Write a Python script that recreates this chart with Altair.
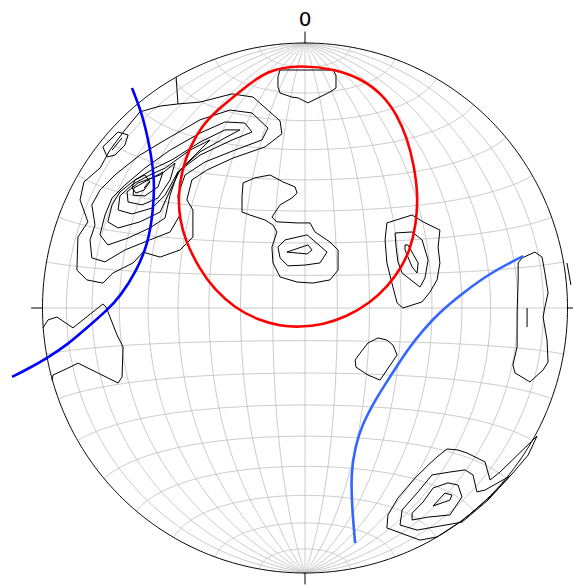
import numpy as np
import pandas as pd
import altair as alt

# ---------------------------------------------------------------------------
# Equal-area (Schmidt) stereonet: density contours of poles, two planes
# (great circles) and a small-circle cone.  All coordinates below are in
# net units: percent of the primitive radius, origin at the net centre,
# x towards E (90), y towards N (0).
# ---------------------------------------------------------------------------

# --- graticule settings (degrees) ---
meridian_lons = [-80, -70, -60, -50, -40, -30, -20, -10, 0, 10, 20, 30, 40, 50, 60, 70, 80]
parallel_lats = [-80, -70, -60, -50, -40, -30, -20, -10, 0, 10, 20, 30, 40, 50, 60, 70, 80]
tick_azimuths = [0, 90, 180, 270]
label_azimuths = [0]
label_texts = ["0"]

# --- density contours, NW pole cluster (nested levels) ---
nw_level1 = [(-48.4, 77.0), (-40.0, 77.7), (-27.8, 80.8), (-19.8, 79.6), (-9.5, 70.6), (-8.8, 65.7),
             (-15.2, 60.8), (-27.4, 56.6), (-37.3, 52.1), (-43.1, 48.3), (-45.0, 40.8), (-42.7, 37.0),
             (-42.7, 26.8), (-47.6, 21.9), (-55.2, 19.2), (-61.7, 21.1), (-65.5, 17.0), (-73.2, 13.2),
             (-77.0, 9.4), (-83.1, 10.6), (-86.9, 14.3), (-86.5, 26.8), (-82.7, 32.5), (-85.7, 40.8),
             (-84.2, 47.6), (-78.1, 52.8), (-74.3, 59.6), (-68.6, 67.2), (-62.9, 74.0), (-55.2, 76.2)]
nw_level2 = [(-53.3, 63.4), (-40.0, 71.0), (-28.6, 74.7), (-20.2, 73.6), (-14.1, 67.9), (-16.4, 63.4),
             (-26.7, 59.6), (-38.1, 55.1), (-45.7, 50.2), (-48.4, 42.6), (-47.6, 35.1), (-51.4, 28.7),
             (-59.1, 25.7), (-68.6, 21.9), (-76.2, 17.4), (-81.2, 18.9), (-81.9, 25.7), (-80.0, 31.3),
             (-81.2, 38.9), (-78.1, 44.5), (-72.4, 50.2), (-62.9, 57.7)]
nw_level3 = [(-51.4, 59.6), (-40.0, 66.0), (-30.5, 70.2), (-22.9, 69.8), (-20.2, 66.4), (-27.8, 63.4),
             (-40.0, 57.7), (-48.4, 51.3), (-51.4, 42.6), (-53.3, 34.0), (-59.1, 30.2), (-67.4, 26.4),
             (-75.1, 23.8), (-78.1, 27.6), (-76.2, 35.1), (-73.5, 41.5), (-68.6, 46.4), (-61.0, 52.8)]
nw_level4 = [(-50.7, 55.9), (-40.0, 62.6), (-30.5, 67.2), (-24.8, 67.2), (-30.5, 64.2), (-40.0, 58.9),
             (-47.6, 52.1), (-52.2, 42.6), (-55.2, 36.2), (-62.9, 32.5), (-71.2, 30.2), (-75.1, 32.5),
             (-73.5, 38.9), (-70.5, 43.8), (-64.8, 48.3), (-57.2, 52.8)]
nw_level5 = [(-53.3, 52.8), (-43.8, 59.6), (-36.2, 63.4), (-41.9, 57.7), (-48.4, 51.3), (-53.3, 42.6),
             (-58.3, 37.7), (-65.9, 35.5), (-71.2, 37.0), (-70.5, 42.3), (-65.5, 46.8), (-59.1, 50.2)]
nw_level6 = [(-55.2, 50.2), (-49.5, 54.7), (-51.4, 48.3), (-56.0, 41.5), (-62.1, 38.9), (-67.4, 40.0),
             (-67.8, 43.8), (-63.6, 47.2)]
nw_level7 = [(-58.3, 49.1), (-54.1, 51.3), (-56.0, 45.7), (-61.0, 42.3), (-65.5, 42.6), (-65.2, 45.3)]
nw_level8 = [(-64.8, 48.3), (-61.0, 50.2), (-59.1, 47.6), (-61.3, 44.5), (-64.4, 43.4), (-65.9, 45.3)]
nw_peak = [(-61.3, 45.3), (-59.1, 47.9)]
nw_side_ring = [(-77.0, 60.8), (-71.2, 66.4), (-67.4, 65.3), (-68.6, 61.5), (-72.4, 57.7), (-75.4, 57.0)]
nw_side_peak = [(-73.5, 59.6), (-69.7, 64.2)]
nw_top_spur = [(-49.1, 87.2), (-48.4, 77.0)]

# --- density contours, other clusters ---
north_ring = [(-9.5, 89.8), (10.7, 89.8), (11.8, 87.9), (11.8, 83.0), (9.5, 81.5), (1.1, 77.4),
              (-2.7, 79.3), (-5.0, 79.6), (-9.5, 81.1), (-10.3, 83.4), (-10.3, 87.2)]
centre_level1 = [(-23.6, 47.2), (-19.1, 49.1), (-13.3, 50.2), (-8.4, 47.6), (-3.8, 45.7), (-3.0, 43.4),
                 (-5.0, 41.5), (-9.5, 38.9), (-12.6, 34.3), (-10.7, 32.5), (-3.0, 32.1), (1.9, 32.1),
                 (3.8, 28.7), (9.5, 24.9), (12.6, 21.9), (12.6, 14.3), (9.5, 10.6), (3.0, 9.4),
                 (-3.0, 9.8), (-9.5, 11.7), (-12.2, 17.0), (-12.6, 23.0), (-10.7, 28.7), (-12.2, 31.3),
                 (-15.2, 33.2), (-21.0, 35.1), (-24.0, 36.2), (-24.0, 41.9)]
centre_level2 = [(-7.6, 25.7), (0.8, 27.6), (8.4, 21.1), (5.7, 17.0), (0.0, 16.2), (-6.5, 15.9),
                 (-9.5, 18.9), (-10.3, 23.0)]
centre_level3 = [(-6.9, 21.1), (1.1, 23.8), (2.7, 21.9), (0.8, 20.4)]
east_level1 = [(31.2, 32.1), (40.8, 35.1), (45.0, 32.5), (51.4, 29.4), (50.7, 23.0), (51.4, 17.0),
               (50.3, 10.6), (47.6, 6.0), (44.6, 2.3), (37.3, 0.0), (35.1, 1.9), (33.5, 7.9),
               (31.2, 17.0), (30.5, 25.7)]
east_level2 = [(34.3, 28.3), (40.8, 28.7), (44.6, 25.7), (46.9, 18.1), (45.7, 11.3), (43.8, 7.9),
               (37.0, 13.2), (35.4, 17.4), (34.7, 23.0)]
east_level3 = [(38.1, 23.8), (39.2, 23.8), (43.1, 17.0), (42.7, 13.2), (40.8, 15.5), (38.1, 21.9)]
se_small_ring = [(19.1, -19.6), (19.4, -22.3), (24.0, -25.3), (28.6, -27.2), (31.2, -23.4), (35.1, -17.7),
                 (33.5, -14.0), (31.2, -12.1), (27.8, -11.3), (24.0, -13.2), (21.0, -17.0)]
rim_east_ring = [(81.2, 17.0), (82.7, 18.9), (87.6, 21.1), (90.3, 19.2), (91.4, 13.2), (92.6, 5.7),
                 (91.4, 0.4), (90.7, -3.4), (92.2, -12.1), (92.6, -20.4), (90.7, -23.4), (85.7, -27.9),
                 (80.0, -24.5), (79.2, -21.5), (80.8, -14.7), (80.8, -1.9), (81.2, 10.6)]
rim_east_peak = [(84.6, 0.0), (84.6, -7.2)]
rim_east_spur = [(99.8, 17.0), (101.3, 8.7)]
south_level1 = [(54.1, -53.2), (58.3, -53.6), (61.7, -54.7), (68.6, -58.1), (70.5, -64.9), (74.3, -61.9),
                (88.4, -48.3), (85.0, -55.5), (78.9, -62.6), (70.5, -71.3), (60.2, -80.0), (50.3, -86.4),
                (43.8, -87.6), (31.2, -83.0), (31.6, -78.1), (35.4, -71.7), (41.9, -64.2), (46.9, -59.3),
                (50.3, -56.2)]
south_level2 = [(48.4, -63.0), (55.2, -61.9), (61.0, -61.1), (64.0, -63.0), (65.5, -69.4), (68.6, -68.7),
                (78.1, -63.4), (69.7, -72.5), (59.8, -80.8), (42.7, -83.8), (36.2, -81.9), (37.0, -76.2),
                (42.7, -69.8)]
south_level3 = [(48.8, -67.9), (54.5, -66.0), (58.3, -66.8), (59.8, -71.3), (55.2, -78.1), (46.9, -78.9),
                (40.8, -80.0), (40.8, -77.4), (45.0, -73.2)]
south_level4 = [(48.8, -74.7), (53.3, -69.8), (56.0, -70.6), (55.2, -72.5)]
west_rim_line = [(-99.8, -7.5), (-97.9, -4.5), (-94.5, -3.4), (-88.4, -7.5), (-77.0, 1.5), (-75.8, 0.4),
                 (-71.6, -10.2), (-69.3, -14.7), (-69.7, -26.0), (-71.2, -28.3), (-86.5, -20.8),
                 (-89.5, -22.3), (-96.0, -25.3), (-96.4, -27.2)]

closed_contours = [nw_level1, nw_level2, nw_level3, nw_level4, nw_level5, nw_level6, nw_level7,
                   nw_level8, nw_side_ring, north_ring, centre_level1, centre_level2, centre_level3,
                   east_level1, east_level2, east_level3, se_small_ring, rim_east_ring,
                   south_level1, south_level2, south_level3, south_level4]
open_contours = [nw_peak, nw_side_peak, nw_top_spur, rim_east_peak, rim_east_spur, west_rim_line]

# --- planes and cone ---
plane_west = [(-65.9, 83.0), (-62.1, 73.6), (-59.1, 60.8), (-57.2, 48.3), (-57.9, 35.9), (-59.8, 24.5),
              (-64.0, 14.3), (-70.5, 4.2), (-75.4, -0.8), (-83.1, -7.5), (-90.7, -14.0), (-98.3, -18.9),
              (-104.8, -22.6), (-111.6, -26.0)]
plane_east = [(83.1, 19.6), (70.5, 13.2), (60.2, 5.7), (51.4, -1.5), (45.0, -8.3), (38.9, -15.9),
              (32.4, -26.0), (26.7, -34.7), (21.7, -44.2), (19.1, -52.5), (17.5, -62.3), (17.9, -75.1),
              (19.1, -88.7)]
cone = [(-1.9, 91.7), (11.4, 90.2), (21.7, 86.4), (29.7, 80.4), (35.1, 72.8), (38.9, 64.2), (41.5, 54.0),
        (43.1, 42.6), (42.3, 31.3), (40.0, 21.9), (36.6, 15.1), (31.6, 8.3), (24.8, 1.9), (15.6, -3.4),
        (6.5, -6.4), (-1.9, -7.2), (-9.5, -6.8), (-17.9, -4.5), (-26.7, 0.0), (-34.3, 6.8),
        (-40.0, 14.3), (-45.7, 25.7), (-47.6, 33.2), (-48.4, 41.9), (-46.9, 52.1), (-43.8, 60.8),
        (-39.6, 68.3), (-33.5, 74.7), (-24.0, 82.3), (-14.5, 89.8)]


def schmidt(lon_deg, lat_deg):
    """Lambert azimuthal equal-area projection, primitive radius 100."""
    lon = np.radians(lon_deg)
    lat = np.radians(lat_deg)
    k = np.sqrt(1.0 / (1.0 + np.cos(lat) * np.cos(lon)))
    return 100 * k * np.cos(lat) * np.sin(lon), 100 * k * np.sin(lat)


def path_rows(points, group, close=False):
    pts = list(points) + ([points[0]] if close else [])
    return [{"x": p[0], "y": p[1], "g": group, "i": i} for i, p in enumerate(pts)]


# graticule
grid_rows = []
sweep = np.arange(-90, 90.5, 1.0)
for lon in meridian_lons:
    gx, gy = schmidt(np.full_like(sweep, lon), sweep)
    grid_rows += path_rows(list(zip(gx, gy)), f"m{lon}")
for lat in parallel_lats:
    gx, gy = schmidt(sweep, np.full_like(sweep, lat))
    grid_rows += path_rows(list(zip(gx, gy)), f"p{lat}")
grid_df = pd.DataFrame(grid_rows)

# primitive circle
az = np.radians(np.arange(0, 360.5, 0.5))
prim_df = pd.DataFrame(path_rows(list(zip(100 * np.sin(az), 100 * np.cos(az))), "primitive"))

# direction ticks and label
tick_len = 4.3
tick_rows = []
for a in tick_azimuths:
    r = np.radians(a)
    tick_rows.append({"x": 100 * np.sin(r), "y": 100 * np.cos(r),
                      "x2": (100 + tick_len) * np.sin(r), "y2": (100 + tick_len) * np.cos(r)})
tick_df = pd.DataFrame(tick_rows)
label_r = 106.6
label_df = pd.DataFrame({"x": [label_r * np.sin(np.radians(a)) for a in label_azimuths],
                         "y": [label_r * np.cos(np.radians(a)) for a in label_azimuths],
                         "t": label_texts})

# contours
cont_rows = []
for n, c in enumerate(closed_contours):
    cont_rows += path_rows(c, f"c{n}", close=True)
for n, c in enumerate(open_contours):
    cont_rows += path_rows(c, f"o{n}")
cont_df = pd.DataFrame(cont_rows)

west_df = pd.DataFrame(path_rows(plane_west, "w"))
east_df = pd.DataFrame(path_rows(plane_east, "e"))
cone_df = pd.DataFrame(path_rows(cone, "cone"))

W, H = 573, 585
xs = alt.Scale(domain=[-305.0 / 2.625, (W - 305.0) / 2.625], nice=False, zero=False)
ys = alt.Scale(domain=[(308.0 - H) / 2.65, 308.0 / 2.65], nice=False, zero=False)
X = alt.X("x:Q", scale=xs, axis=None)
Y = alt.Y("y:Q", scale=ys, axis=None)

grid = alt.Chart(grid_df).mark_line(color="#c4c4c4", strokeWidth=0.9).encode(
    x=X, y=Y, detail="g:N", order="i:Q")
prim = alt.Chart(prim_df).mark_line(color="black", strokeWidth=1).encode(
    x=X, y=Y, detail="g:N", order="i:Q")
ticks = alt.Chart(tick_df).mark_rule(color="black", strokeWidth=1).encode(
    x=X, y=Y, x2="x2:Q", y2="y2:Q")
label = alt.Chart(label_df).mark_text(font="DejaVu Sans", fontSize=20, align="center",
                                      baseline="alphabetic", color="black").encode(
    x=X, y=Y, text="t:N")
contours = alt.Chart(cont_df).mark_line(color="black", strokeWidth=1).encode(
    x=X, y=Y, detail="g:N", order="i:Q")
west = alt.Chart(west_df).mark_line(color="#0000ff", strokeWidth=2.6, interpolate="basis").encode(
    x=X, y=Y, order="i:Q")
east = alt.Chart(east_df).mark_line(color="#3366ff", strokeWidth=2.6, interpolate="basis").encode(
    x=X, y=Y, order="i:Q")
cone_line = alt.Chart(cone_df).mark_line(color="#ff0000", strokeWidth=2.6,
                                         interpolate="basis-closed").encode(
    x=X, y=Y, order="i:Q")

chart = alt.layer(grid, prim, ticks, label, contours, west, east, cone_line).properties(
    width=W, height=H, autosize=alt.AutoSizeParams(type="none"), padding=0,
    background="white"
).configure_view(stroke=None)

chart.save("out.html", embed_options={"renderer": "svg", "actions": False})
